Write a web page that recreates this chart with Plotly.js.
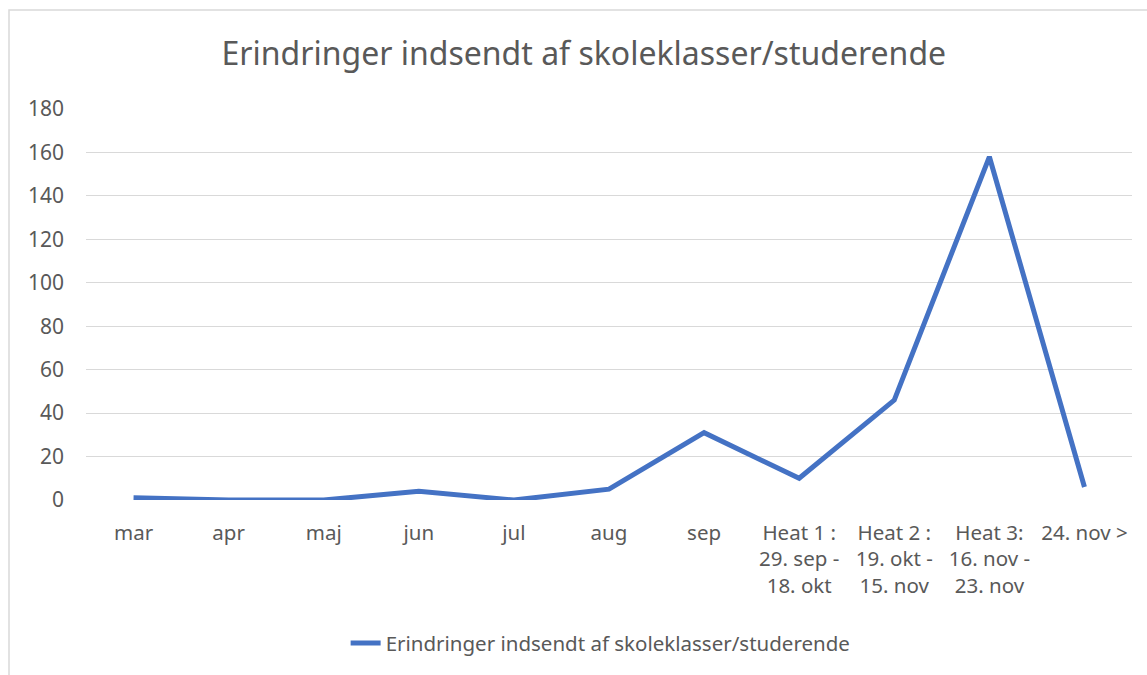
<!DOCTYPE html>
<html>
<head>
<meta charset="utf-8">
<script src="https://cdn.plot.ly/plotly-3.0.1.min.js"></script>
<style>
  body { margin: 0; background: #fff; }
  #chart { width: 1147px; height: 675px; }
</style>
</head>
<body>
<div id="chart"></div>
<script>
// categories and values
const categories = [
  "mar", "apr", "maj", "jun", "jul", "aug", "sep",
  "Heat 1 :<br>29. sep -<br>18. okt",
  "Heat 2 :<br>19. okt -<br>15. nov",
  "Heat 3:<br>16. nov -<br>23. nov",
  "24. nov >"
];
const values = [1, 0, 0, 4, 0, 5, 31, 10, 46, 158, 6];
const seriesName = "Erindringer indsendt af skoleklasser/studerende";
const yTicks = [0, 20, 40, 60, 80, 100, 120, 140, 160, 180];

const txtColor = "#595959";
const fontFam = "'Noto Sans', 'Open Sans', sans-serif";

const trace = {
  x: categories,
  y: values,
  name: seriesName,
  type: "scatter",
  mode: "lines",
  line: { color: "#4472C4", width: 5 },
  showlegend: true
};

const layout = {
  width: 1147,
  height: 675,
  margin: { l: 86, r: 15, t: 109, b: 175 },
  paper_bgcolor: "#fff",
  plot_bgcolor: "#fff",
  font: { family: fontFam, color: txtColor, size: 20 },
  title: {
    text: seriesName,
    x: 0.509,
    xanchor: "center",
    y: 0.921,
    yanchor: "middle",
    font: { size: 32, color: txtColor, family: fontFam }
  },
  xaxis: {
    type: "category",
    range: [-0.5, categories.length - 0.5],
    showgrid: false,
    zeroline: false,
    showline: false,
    ticks: "",
    ticklabelstandoff: 18,
    tickfont: { size: 20.5, color: txtColor }
  },
  yaxis: {
    range: [0, 180],
    tickvals: yTicks,
    showgrid: true,
    gridcolor: "#d9d9d9",
    gridwidth: 1.3,
    zeroline: false,
    showline: false,
    ticks: "",
    ticklabelstandoff: 21,
    tickfont: { size: 21, color: txtColor }
  },
  legend: {
    orientation: "h",
    x: 0.492,
    xanchor: "center",
    y: -0.366,
    yanchor: "middle",
    font: { size: 20.5, color: txtColor }
  },
  shapes: [
    {
      type: "rect",
      xref: "paper", yref: "paper",
      x0: (9 - 86) / 1046, x1: 1.05,
      y0: -0.5, y1: (500 - 10) / 391,
      line: { color: "#d9d9d9", width: 1.5 },
      fillcolor: "rgba(0,0,0,0)",
      layer: "below"
    }
  ]
};

Plotly.newPlot("chart", [trace], layout, { displayModeBar: false });
</script>
</body>
</html>
